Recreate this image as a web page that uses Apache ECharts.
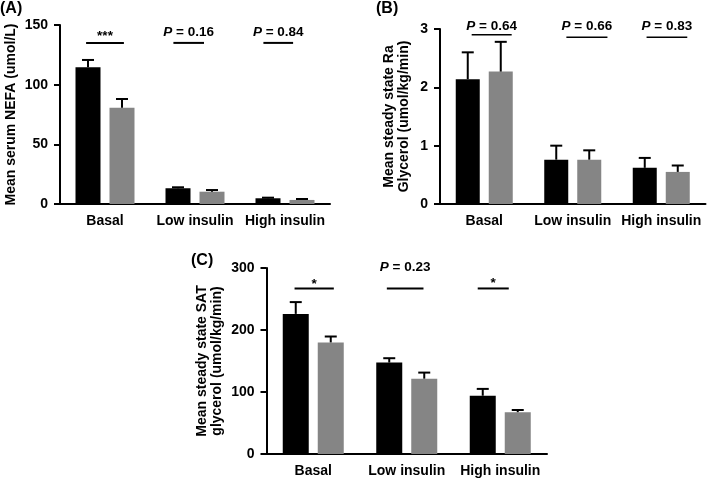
<!DOCTYPE html>
<html><head><meta charset="utf-8">
<script src="https://cdn.jsdelivr.net/npm/echarts@6/dist/echarts.min.js"></script>
<style>html,body{margin:0;padding:0;background:#fff}#c{width:709px;height:480px}</style>
</head><body><div id="c"></div>
<script>
// ---------- DATA ----------
const categories = ['Basal', 'Low insulin', 'High insulin'];

// (A) Mean serum NEFA (umol/L)
const nefaBlack    = [114.5, 13.2, 4.8];
const nefaBlackErr = [6.2, 0.8, 0.5];
const nefaGray     = [80.7, 10.3, 3.4];
const nefaGrayErr  = [7.3, 1.4, 0.8];
const nefaTicks    = [0, 50, 100, 150];
const nefaAnnText  = ['***', 'P = 0.16', 'P = 0.84'];
const nefaAnnLevel = [135, 135, 135];

// (B) Mean steady state Ra glycerol (umol/kg/min)
const raBlack    = [2.14, 0.76, 0.62];
const raBlackErr = [0.46, 0.24, 0.17];
const raGray     = [2.27, 0.76, 0.55];
const raGrayErr  = [0.51, 0.16, 0.11];
const raTicks    = [0, 1, 2, 3];
const raAnnText  = ['P = 0.64', 'P = 0.66', 'P = 0.83'];
const raAnnLevel = [2.9, 2.86, 2.86];

// (C) Mean steady state SAT glycerol (umol/kg/min)
const satBlack    = [226, 147.5, 94];
const satBlackErr = [19, 7, 11];
const satGray     = [180, 121.5, 67.5];
const satGrayErr  = [9.5, 9.8, 3.5];
const satTicks    = [0, 100, 200, 300];
const satAnnText  = ['*', 'P = 0.23', '*'];
const satAnnLevel = [267, 267, 267];

// ---------- LAYOUT / STYLE ----------
const FONT = 'Liberation Sans, Arial, Helvetica, sans-serif';
const BLACK = '#000000';
const GRAY = '#858585';
const FS = 14;      // axis text size
const AFS = 13.5;   // annotation text size

const panels = [
  { label: '(A)', labelPos: {left: 0, top: 1},
    black: nefaBlack, blackErr: nefaBlackErr, gray: nefaGray, grayErr: nefaGrayErr, ticks: nefaTicks,
    annText: nefaAnnText, annLevel: nefaAnnLevel,
    annLay: { dx: [0, -0.07, -0.075], half: [0.21, 0.17, 0.165], dy: [-6.5, -10.5, -10.5] },
    annLine: 2,
    yName: 'Mean serum NEFA (umol/L)', nameGap: 41,
    grid: {left: 60, top: 25, width: 270, height: 179}, barWidth: 25, gapPx: 9 },
  { label: '(B)', labelPos: {left: 376, top: 1},
    black: raBlack, blackErr: raBlackErr, gray: raGray, grayErr: raGrayErr, ticks: raTicks,
    annText: raAnnText, annLevel: raAnnLevel,
    annLay: { dx: [0.084, 0.16, 0.064], half: [0.226, 0.232, 0.23], dy: [-9, -11, -11] },
    annLine: 1.5,
    yName: 'Mean steady state Ra\nGlycerol (umol/kg/min)', nameGap: 28,
    grid: {left: 440, top: 29, width: 265.5, height: 175}, barWidth: 24, gapPx: 9 },
  { label: '(C)', labelPos: {left: 191, top: 253},
    black: satBlack, blackErr: satBlackErr, gray: satGray, grayErr: satGrayErr, ticks: satTicks,
    annText: satAnnText, annLevel: satAnnLevel,
    annLay: { dx: [0.01, -0.017, -0.075], half: [0.21, 0.196, 0.166], dy: [-4.5, -21, -5] },
    annLine: 2,
    yName: 'Mean steady state SAT\nglycerol (umol/kg/min)', nameGap: 42,
    grid: {left: 266.5, top: 268, width: 280.5, height: 186}, barWidth: 26, gapPx: 9 }
];

const txt = {color: '#000', fontFamily: FONT, fontWeight: 'bold', fontSize: FS};

function errorSeries(pi, p, means, errs, sign) {
  return {
    type: 'custom', xAxisIndex: pi, yAxisIndex: pi, z: 5, silent: true,
    data: means.map((m, i) => [i, m, m + errs[i]]),
    encode: {x: 0, y: [1, 2]},
    renderItem(params, api) {
      const i = api.value(0);
      const base = api.coord([i, api.value(1)]);
      const top = api.coord([i, api.value(2)]);
      const x = base[0] + sign * (p.barWidth + p.gapPx) / 2;
      const cap = 6;
      return { type: 'group', children: [
        {type: 'line', shape: {x1: x, y1: base[1], x2: x, y2: top[1]}, style: {stroke: '#000', lineWidth: 2}},
        {type: 'line', shape: {x1: x - cap, y1: top[1], x2: x + cap, y2: top[1]}, style: {stroke: '#000', lineWidth: 2}}
      ]};
    }
  };
}

function annSeries(pi, p) {
  const band = p.grid.width / categories.length;
  return {
    type: 'custom', xAxisIndex: pi, yAxisIndex: pi, z: 6, silent: true,
    data: p.annText.map((t, k) => [k, p.annLevel[k], k]),
    encode: {x: 0, y: 1},
    renderItem(params, api) {
      const k = api.value(2);
      const pt = api.coord([api.value(0), api.value(1)]);
      const cx = pt[0] + p.annLay.dx[k] * band;
      const half = p.annLay.half[k] * band;
      const label = p.annText[k];
      const text = label.charAt(0) === 'P' ? '{i|P}{n|' + label.slice(1) + '}' : '{n|' + label + '}';
      return { type: 'group', children: [
        {type: 'line', shape: {x1: cx - half, y1: pt[1], x2: cx + half, y2: pt[1]},
         style: {stroke: '#000', lineWidth: p.annLine}},
        {type: 'text', x: cx, y: pt[1] + p.annLay.dy[k],
         style: {text: text, align: 'center', verticalAlign: 'middle',
           fill: '#000', fontFamily: FONT, fontWeight: 'bold', fontSize: AFS,
           rich: {
             i: {fontStyle: 'italic', fontWeight: 'bold', fontSize: AFS, fontFamily: FONT, fill: '#000'},
             n: {fontWeight: 'bold', fontSize: AFS, fontFamily: FONT, fill: '#000'}
           }}}
      ]};
    }
  };
}

const option = {
  animation: false,
  backgroundColor: '#fff',
  title: panels.map(p => ({ text: p.label, left: p.labelPos.left, top: p.labelPos.top, padding: 0,
    textStyle: {color: '#000', fontFamily: FONT, fontWeight: 'bold', fontSize: 16} })),
  grid: panels.map(p => Object.assign({containLabel: false}, p.grid)),
  xAxis: panels.map((p, pi) => ({
    gridIndex: pi, type: 'category', data: categories,
    axisLine: {lineStyle: {color: '#000', width: 2}},
    axisTick: {alignWithLabel: true, length: 6, lineStyle: {color: '#000', width: 2}},
    axisLabel: Object.assign({margin: 10, interval: 0}, txt),
    splitLine: {show: false}
  })),
  yAxis: panels.map((p, pi) => ({
    gridIndex: pi, type: 'value',
    min: p.ticks[0], max: p.ticks[p.ticks.length - 1], interval: p.ticks[1] - p.ticks[0],
    axisLine: {show: true, onZero: false, lineStyle: {color: '#000', width: 2}},
    axisTick: {show: true, length: 6, lineStyle: {color: '#000', width: 2}},
    axisLabel: Object.assign({margin: 12}, txt),
    splitLine: {show: false},
    name: p.yName, nameLocation: 'middle', nameRotate: 90, nameGap: p.nameGap,
    nameTextStyle: Object.assign({lineHeight: 15}, txt)
  })),
  series: []
};

panels.forEach((p, pi) => {
  const gap = (p.gapPx / p.barWidth * 100) + '%';
  option.series.push(
    {type: 'bar', name: 'black' + pi, xAxisIndex: pi, yAxisIndex: pi, data: p.black,
     barWidth: p.barWidth, barGap: gap, itemStyle: {color: BLACK}, silent: true},
    {type: 'bar', name: 'gray' + pi, xAxisIndex: pi, yAxisIndex: pi, data: p.gray,
     barWidth: p.barWidth, barGap: gap, itemStyle: {color: GRAY}, silent: true},
    errorSeries(pi, p, p.black, p.blackErr, -1),
    errorSeries(pi, p, p.gray, p.grayErr, 1),
    annSeries(pi, p)
  );
});

const chart = echarts.init(document.getElementById('c'), null, {renderer: 'canvas'});
chart.setOption(option);
</script>
</body></html>
